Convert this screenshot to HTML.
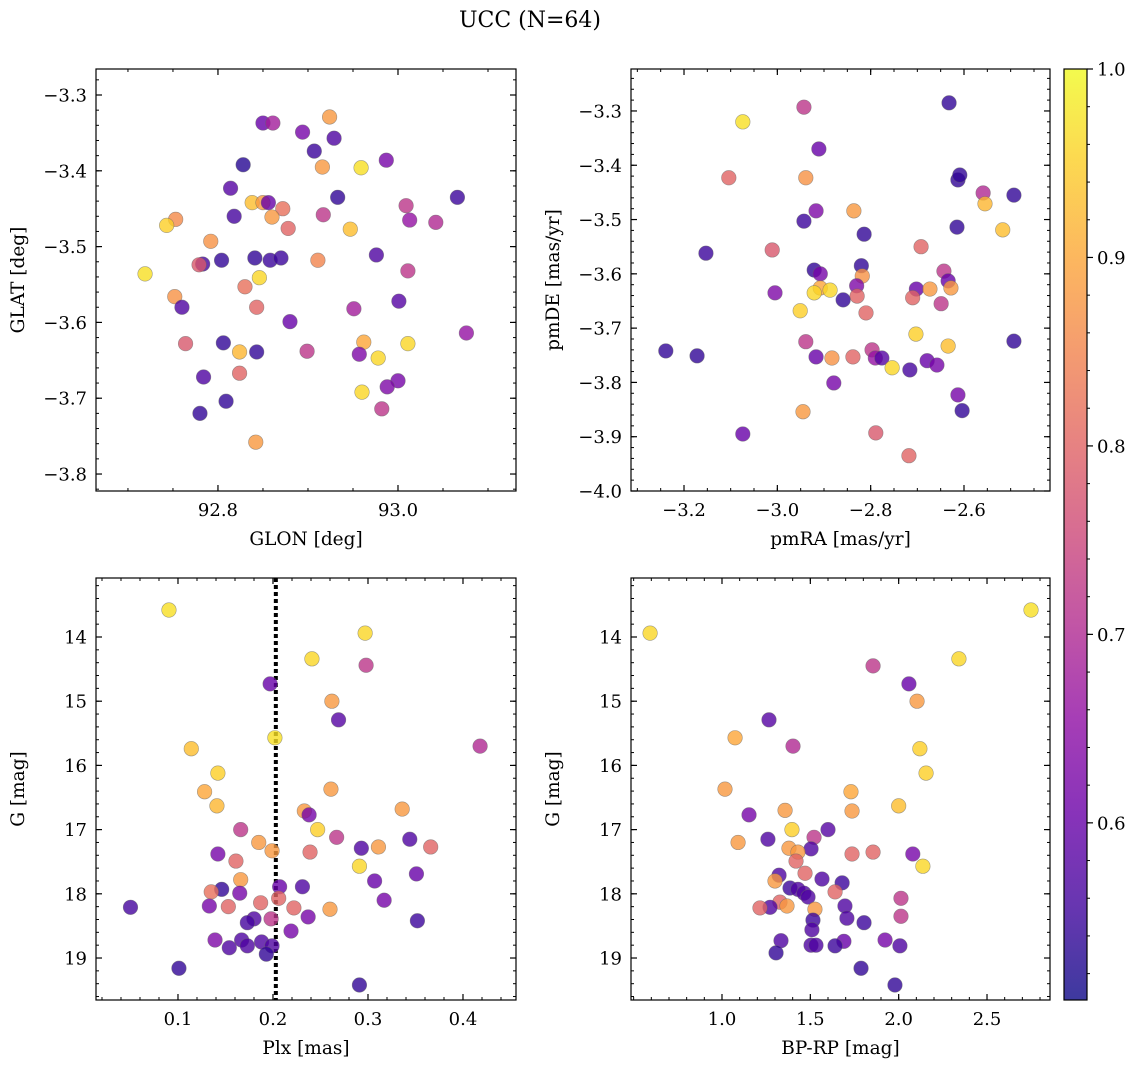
<!DOCTYPE html>
<html><head><meta charset="utf-8">
<style>
html,body{margin:0;padding:0;background:#fff;}
svg{display:block;font-family:"DejaVu Serif","Liberation Serif",serif;}
</style></head>
<body>
<svg id="fig" width="1136" height="1068" viewBox="0 0 1136 1068" xmlns="http://www.w3.org/2000/svg">
<text x="530" y="27" font-size="22" text-anchor="middle">UCC (N=64)</text>
</svg>
<script>
// ---- Panel 1: GLON vs GLAT ----
const glon=[92.85,92.861,92.924,92.894,92.929,92.907,92.828,92.916,92.959,92.987,92.814,92.838,92.85,92.856,92.933,93.066,92.872,92.86,92.818,92.917,93.009,93.013,93.042,92.753,92.743,92.878,92.947,92.792,92.841,92.858,92.87,92.911,92.976,92.804,92.783,92.779,93.011,92.719,92.846,92.83,92.752,92.76,92.843,93.001,92.951,92.88,93.076,92.764,92.806,92.962,93.011,92.843,92.824,92.899,92.957,92.978,92.824,92.784,93.0,92.988,92.96,92.809,92.78,92.982,92.842];
const glat=[-3.337,-3.337,-3.329,-3.349,-3.357,-3.374,-3.392,-3.395,-3.396,-3.386,-3.423,-3.442,-3.442,-3.442,-3.435,-3.435,-3.45,-3.461,-3.46,-3.458,-3.446,-3.465,-3.468,-3.464,-3.472,-3.476,-3.477,-3.493,-3.515,-3.518,-3.515,-3.518,-3.511,-3.518,-3.523,-3.524,-3.532,-3.536,-3.541,-3.553,-3.566,-3.58,-3.58,-3.572,-3.582,-3.599,-3.614,-3.628,-3.627,-3.626,-3.628,-3.639,-3.639,-3.638,-3.642,-3.647,-3.667,-3.672,-3.677,-3.685,-3.692,-3.704,-3.72,-3.714,-3.758];
const probTL=[0.6,0.68,0.88,0.62,0.57,0.55,0.53,0.88,0.97,0.62,0.58,0.93,0.88,0.6,0.54,0.55,0.82,0.88,0.56,0.72,0.72,0.66,0.7,0.86,0.95,0.8,0.93,0.87,0.54,0.55,0.55,0.85,0.57,0.54,0.56,0.78,0.72,0.97,0.96,0.82,0.87,0.57,0.8,0.58,0.68,0.6,0.66,0.78,0.54,0.9,0.96,0.54,0.92,0.72,0.63,0.96,0.8,0.57,0.62,0.63,0.96,0.54,0.54,0.72,0.88];
// ---- Panel 2: pmRA vs pmDE ----
const pmra=[-2.943,-2.632,-3.074,-2.911,-3.104,-2.939,-2.613,-2.609,-2.559,-2.493,-2.917,-2.836,-2.555,-2.943,-2.615,-2.517,-2.814,-3.153,-3.011,-2.692,-2.82,-2.643,-2.818,-2.921,-2.908,-2.634,-3.005,-2.908,-2.887,-2.921,-2.83,-2.829,-2.859,-2.702,-2.673,-2.628,-2.71,-2.649,-2.951,-2.81,-2.703,-2.634,-2.939,-2.493,-3.239,-3.172,-2.917,-2.883,-2.838,-2.797,-2.79,-2.776,-2.754,-2.679,-2.716,-2.658,-2.879,-2.613,-2.604,-2.945,-3.074,-2.789,-2.718];
const pmde=[-3.293,-3.285,-3.32,-3.37,-3.423,-3.423,-3.427,-3.418,-3.451,-3.455,-3.484,-3.484,-3.471,-3.503,-3.514,-3.519,-3.527,-3.562,-3.556,-3.55,-3.585,-3.595,-3.604,-3.593,-3.6,-3.613,-3.635,-3.626,-3.63,-3.635,-3.622,-3.641,-3.648,-3.628,-3.628,-3.626,-3.644,-3.655,-3.668,-3.672,-3.711,-3.733,-3.725,-3.724,-3.742,-3.751,-3.753,-3.755,-3.753,-3.74,-3.755,-3.755,-3.773,-3.76,-3.777,-3.768,-3.801,-3.823,-3.852,-3.854,-3.895,-3.893,-3.935];
const probTR=[0.72,0.54,0.97,0.6,0.8,0.87,0.54,0.54,0.7,0.54,0.63,0.88,0.92,0.55,0.54,0.93,0.54,0.55,0.78,0.8,0.54,0.72,0.87,0.54,0.62,0.6,0.63,0.9,0.96,0.96,0.63,0.8,0.54,0.6,0.88,0.88,0.8,0.72,0.95,0.8,0.95,0.93,0.72,0.54,0.54,0.54,0.6,0.87,0.8,0.72,0.66,0.58,0.96,0.6,0.56,0.62,0.62,0.62,0.54,0.88,0.6,0.78,0.8];
// ---- Panel 3: Plx vs G ----
const plx=[0.0905,0.297,0.241,0.298,0.197,0.262,0.269,0.202,0.114,0.418,0.142,0.128,0.261,0.141,0.336,0.233,0.238,0.247,0.166,0.267,0.344,0.185,0.199,0.366,0.142,0.239,0.293,0.161,0.311,0.291,0.351,0.307,0.166,0.146,0.135,0.207,0.231,0.165,0.317,0.206,0.05,0.133,0.153,0.187,0.222,0.26,0.198,0.237,0.18,0.173,0.352,0.219,0.139,0.167,0.188,0.154,0.173,0.199,0.193,0.101,0.291];
const gmagL=[13.58,13.94,14.34,14.44,14.73,15.0,15.29,15.57,15.74,15.7,16.12,16.41,16.37,16.63,16.68,16.71,16.77,17.0,17.0,17.12,17.15,17.2,17.33,17.27,17.38,17.35,17.29,17.49,17.27,17.57,17.69,17.8,17.78,17.93,17.97,17.89,17.89,17.99,18.1,18.07,18.21,18.19,18.2,18.14,18.22,18.24,18.39,18.36,18.39,18.45,18.42,18.58,18.72,18.72,18.75,18.84,18.81,18.81,18.94,19.16,19.42];
const probBL=[0.97,0.96,0.96,0.72,0.6,0.88,0.58,0.97,0.93,0.7,0.95,0.9,0.88,0.92,0.88,0.88,0.62,0.95,0.72,0.72,0.57,0.88,0.88,0.8,0.62,0.8,0.57,0.8,0.88,0.96,0.6,0.6,0.88,0.54,0.82,0.6,0.57,0.62,0.62,0.8,0.56,0.62,0.8,0.8,0.8,0.88,0.72,0.62,0.57,0.56,0.55,0.62,0.63,0.57,0.57,0.57,0.57,0.57,0.54,0.54,0.54];
const plxLine=0.203;
// ---- Panel 4: BP-RP vs G ----
const bprp=[2.749,0.593,2.341,1.855,2.058,2.104,1.266,1.074,2.12,1.402,2.155,1.017,1.73,2.0,1.153,1.357,1.736,1.396,1.6,1.091,1.521,1.26,1.379,1.504,1.43,1.855,1.736,2.08,1.419,2.137,1.47,1.323,1.566,1.3,1.68,1.385,1.43,1.464,1.487,1.64,2.013,1.328,1.368,1.272,1.215,1.526,1.696,1.515,1.707,1.804,2.013,1.509,1.923,1.334,1.69,1.504,1.532,1.64,2.007,1.306,1.787,1.979];
const gmagR=[13.58,13.94,14.34,14.45,14.73,15.0,15.29,15.57,15.74,15.7,16.12,16.37,16.41,16.63,16.77,16.7,16.71,17.0,17.0,17.2,17.12,17.15,17.29,17.3,17.35,17.35,17.38,17.38,17.49,17.57,17.68,17.71,17.77,17.8,17.83,17.91,17.93,17.99,18.05,17.97,18.07,18.13,18.19,18.21,18.22,18.24,18.19,18.41,18.38,18.45,18.35,18.56,18.72,18.73,18.74,18.8,18.8,18.81,18.81,18.92,19.16,19.42];
const probBR=[0.97,0.96,0.96,0.72,0.6,0.88,0.58,0.9,0.95,0.7,0.95,0.88,0.9,0.93,0.62,0.88,0.88,0.95,0.58,0.88,0.72,0.57,0.88,0.57,0.88,0.8,0.8,0.62,0.8,0.96,0.8,0.57,0.57,0.88,0.55,0.55,0.57,0.57,0.57,0.8,0.72,0.8,0.88,0.57,0.8,0.88,0.57,0.55,0.57,0.55,0.72,0.57,0.62,0.57,0.6,0.57,0.57,0.55,0.57,0.54,0.54,0.54];
// ---- Colorbar ----
const cbMin=0.506, cbMax=1.0;
const cbTicks=[0.6,0.7,0.8,0.9,1.0];

const NS="http://www.w3.org/2000/svg";
const svg=document.getElementById('fig');
function mk(tag,attrs,parent){const e=document.createElementNS(NS,tag);for(const k in attrs)e.setAttribute(k,attrs[k]);(parent||svg).appendChild(e);return e;}
const plasma=[[13,8,135],[65,4,157],[106,0,168],[143,13,164],[177,42,144],[204,71,120],[225,100,98],[242,132,75],[252,166,54],[252,206,37],[240,249,33]];
function cmap(p){let t=(p-cbMin)/(cbMax-cbMin);t=Math.max(0,Math.min(1,t))*10;const i=Math.min(9,Math.floor(t)),f=t-i;const a=plasma[i],b=plasma[i+1];return 'rgb('+[0,1,2].map(k=>Math.round(a[k]+(b[k]-a[k])*f)).join(',')+')';}
function fmt(v,d){const s=Math.abs(v).toFixed(d);return (v<0?'\u2212':'')+s;}

function panel(o){
  const g=mk('g',{},svg);
  
  
  const X=v=>o.x0+(v-o.xmin)/(o.xmax-o.xmin)*(o.x1-o.x0);
  const Y=o.yinv?(v=>o.y0+(v-o.ymin)/(o.ymax-o.ymin)*(o.y1-o.y0)):(v=>o.y1-(v-o.ymin)/(o.ymax-o.ymin)*(o.y1-o.y0));
  const eps=1e-9;
  for(let v=Math.ceil(o.xmin/o.xminor-eps)*o.xminor;v<=o.xmax+eps;v+=o.xminor){const px=X(v);
    mk('line',{x1:px,x2:px,y1:o.y1,y2:o.y1-3,stroke:'#000','stroke-width':1},g);
    mk('line',{x1:px,x2:px,y1:o.y0,y2:o.y0+3,stroke:'#000','stroke-width':1},g);}
  for(let v=Math.ceil(o.ymin/o.yminor-eps)*o.yminor;v<=o.ymax+eps;v+=o.yminor){const py=Y(v);
    mk('line',{x1:o.x0,x2:o.x0+3,y1:py,y2:py,stroke:'#000','stroke-width':1},g);
    mk('line',{x1:o.x1,x2:o.x1-3,y1:py,y2:py,stroke:'#000','stroke-width':1},g);}
  o.xticks.forEach(v=>{const px=X(v);
    mk('line',{x1:px,x2:px,y1:o.y1,y2:o.y1-6,stroke:'#000','stroke-width':1.2},g);
    mk('line',{x1:px,x2:px,y1:o.y0,y2:o.y0+6,stroke:'#000','stroke-width':1.2},g);
    const t=mk('text',{x:px,y:o.y1+25,'font-size':18,'text-anchor':'middle'},g);t.textContent=fmt(v,o.xd);
    
    });
  o.yticks.forEach(v=>{const py=Y(v);
    mk('line',{x1:o.x0,x2:o.x0+6,y1:py,y2:py,stroke:'#000','stroke-width':1.2},g);
    mk('line',{x1:o.x1,x2:o.x1-6,y1:py,y2:py,stroke:'#000','stroke-width':1.2},g);
    const t=mk('text',{x:o.x0-9,y:py+6.5,'font-size':18,'text-anchor':'end'},g);t.textContent=fmt(v,o.yd);
    
    });
  if(o.vline!==undefined){const l=mk('line',{x1:X(o.vline),x2:X(o.vline),y1:o.y0,y2:o.y1,stroke:'#000','stroke-width':4,'stroke-dasharray':'4,3'},g);
    
    }
  o.xs.forEach((v,i)=>{const c=mk('circle',{cx:X(v),cy:Y(o.ys[i]),r:7.3,fill:cmap(o.ps[i]),'fill-opacity':0.8,stroke:'#666','stroke-opacity':0.6,'stroke-width':0.6},g);
    
    });
  const fr=mk('rect',{x:o.x0,y:o.y0,width:o.x1-o.x0,height:o.y1-o.y0,fill:'none',stroke:'#000','stroke-width':1.2},g);
  
  
  const xl=mk('text',{x:(o.x0+o.x1)/2,y:o.y1+54,'font-size':18.5,'text-anchor':'middle'},g);xl.textContent=o.xlabel;
  
  
  const yx=o.x0-72,yy=(o.y0+o.y1)/2;
  const yl=mk('text',{x:yx,y:yy,'font-size':18.5,'text-anchor':'middle',transform:'rotate(-90 '+yx+' '+yy+')'},g);yl.textContent=o.ylabel;
  
  
}

panel({name:'glon-glat-panel',x0:96,x1:516,y0:69,y1:491,xmin:92.6645,xmax:93.1311,ymin:-3.8224,ymax:-3.2657,
  xticks:[92.8,93.0],xminor:0.05,xd:1,yticks:[-3.8,-3.7,-3.6,-3.5,-3.4,-3.3],yminor:0.02,yd:1,
  xs:glon,ys:glat,ps:probTL,xlabel:'GLON [deg]',ylabel:'GLAT [deg]'});
panel({name:'pm-panel',x0:631,x1:1050,y0:69,y1:491,xmin:-3.3136,xmax:-2.4157,ymin:-4.0,ymax:-3.2227,
  xticks:[-3.2,-3.0,-2.8,-2.6],xminor:0.05,xd:1,yticks:[-4.0,-3.9,-3.8,-3.7,-3.6,-3.5,-3.4,-3.3],yminor:0.02,yd:1,
  xs:pmra,ys:pmde,ps:probTR,xlabel:'pmRA [mas/yr]',ylabel:'pmDE [mas/yr]'});
panel({name:'plx-g-panel',x0:96,x1:516,y0:578,y1:1000,xmin:0.0137,xmax:0.4558,ymin:13.081,ymax:19.654,yinv:true,
  xticks:[0.1,0.2,0.3,0.4],xminor:0.02,xd:1,yticks:[14,15,16,17,18,19],yminor:0.2,yd:0,
  xs:plx,ys:gmagL,ps:probBL,vline:plxLine,xlabel:'Plx [mas]',ylabel:'G [mag]'});
panel({name:'cmd-panel',x0:631,x1:1050,y0:578,y1:1000,xmin:0.485,xmax:2.8565,ymin:13.081,ymax:19.654,yinv:true,
  xticks:[1.0,1.5,2.0,2.5],xminor:0.1,xd:1,yticks:[14,15,16,17,18,19],yminor:0.2,yd:0,
  xs:bprp,ys:gmagR,ps:probBR,xlabel:'BP-RP [mag]',ylabel:'G [mag]'});

(function(){
  const g=mk('g',{},svg);
  
  
  const x0=1064,x1=1087,y0=69,y1=1000;
  const defs=mk('defs',{},g);
  const lg=mk('linearGradient',{id:'cbg',x1:0,y1:1,x2:0,y2:0},defs);
  plasma.forEach((c,i)=>mk('stop',{offset:(i/10),'stop-color':'rgb('+c.join(',')+')','stop-opacity':0.8},lg));
  mk('rect',{x:x0,y:y0,width:x1-x0,height:y1-y0,fill:'url(#cbg)'},g);
  mk('rect',{x:x0,y:y0,width:x1-x0,height:y1-y0,fill:'none',stroke:'#000','stroke-width':1.2},g);
  const Y=v=>y1-(v-cbMin)/(cbMax-cbMin)*(y1-y0);
  for(let v=0.52;v<=1.0001;v+=0.02){mk('line',{x1:x1,x2:x1+3,y1:Y(v),y2:Y(v),stroke:'#000','stroke-width':1},g);}
  cbTicks.forEach(v=>{mk('line',{x1:x1,x2:x1+6,y1:Y(v),y2:Y(v),stroke:'#000','stroke-width':1.2},g);
    const t=mk('text',{x:x1+10,y:Y(v)+6.5,'font-size':18},g);t.textContent=v.toFixed(1);
    
    });
})();
</script>
</body></html>
